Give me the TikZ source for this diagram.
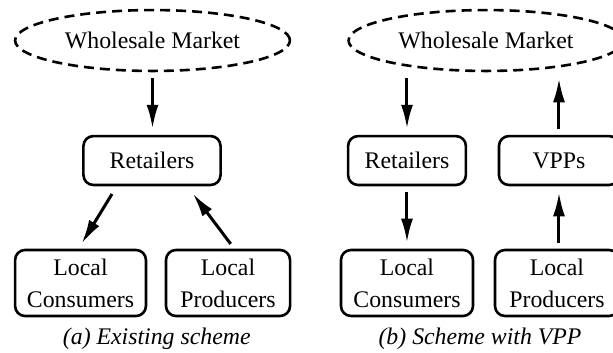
\documentclass[tikz,border=0pt]{standalone}
\usepackage{fontspec}
\setmainfont{Liberation Serif}
\usetikzlibrary{arrows.meta,shapes.geometric}

\begin{document}
\begin{tikzpicture}[
    font=\fontsize{11.9}{16}\selectfont,
    market/.style={ellipse,draw,dashed,dash pattern=on 5pt off 3pt,line width=1.3pt,
      minimum width=4.83cm,minimum height=1.07cm,inner sep=0pt},
    unit/.style={draw,rounded corners=5pt,line width=1.3pt,align=center,inner sep=0pt},
    flow/.style={-{Latex[length=12pt,width=6pt]},line width=1.5pt,
      shorten >=3pt,shorten <=3pt},
    caption/.style={font=\fontsize{11.9}{16}\selectfont\itshape,anchor=base}]
  \useasboundingbox (0,0) rectangle (10.772,6.186);
  % (a) existing scheme
  \node[market] (wmA) at (2.680,5.474) {Wholesale Market};
  \node[unit,minimum width=2.41cm,minimum height=0.86cm] (retA) at (2.671,3.365) {Retailers};
  \node[unit,minimum width=2.30cm,minimum height=1.16cm] (consA) at (1.415,1.213) {Local\\Consumers};
  \node[unit,minimum width=2.18cm,minimum height=1.16cm] (prodA) at (4.007,1.213) {Local\\Producers};
  \draw[flow] (wmA.south) -- (wmA.south |- retA.north);
  \draw[flow,shorten <=4.5pt] ([xshift=-0.62cm]retA.south) -- ([xshift=-0.035cm]consA.north);
  \draw[flow,shorten >=4.5pt] ([xshift=0.11cm]prodA.north) -- ([xshift=0.62cm]retA.south);
  \node[caption] (capA) at (2.755,0.125) {(a) Existing scheme};
  % (b) scheme with VPP
  \node[market] (wmB) at (8.540,5.474) {Wholesale Market};
  \node[unit,minimum width=2.07cm,minimum height=0.86cm] (retB) at (7.152,3.365) {Retailers};
  \node[unit,minimum width=2.11cm,minimum height=0.86cm] (vpp) at (9.823,3.365) {VPPs};
  \node[unit,minimum width=2.32cm,minimum height=1.16cm] (consB) at (7.152,1.213) {Local\\Consumers};
  \node[unit,minimum width=2.18cm,minimum height=1.16cm] (prodB) at (9.788,1.213) {Local\\Producers};
  \draw[flow] (retB.north |- wmB.south) -- (retB.north);
  \draw[flow] (vpp.north) -- (vpp.north |- wmB.south);
  \draw[flow] (retB.south) -- (consB.north);
  \draw[flow] (prodB.north -| vpp.south) -- (vpp.south);
  \node[caption] (capB) at (8.435,0.125) {(b) Scheme with VPP};
\end{tikzpicture}
\end{document}
